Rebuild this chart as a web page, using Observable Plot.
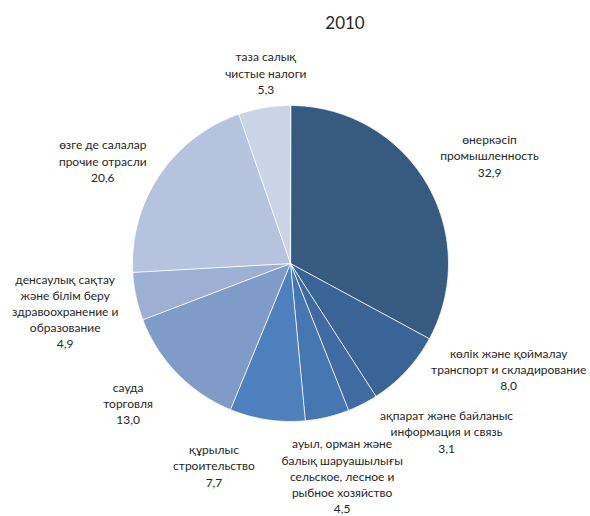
<!DOCTYPE html>
<html><head><meta charset="utf-8">
<script src="https://cdn.jsdelivr.net/npm/d3@7"></script>
<script src="https://cdn.jsdelivr.net/npm/@observablehq/plot@0.6"></script>
<style>
body{margin:0;background:#fff;font-family:Lato,"Noto Sans",sans-serif}
#title{width:590px;height:45px;line-height:45px;box-sizing:border-box;padding-left:100px;text-align:center;font-size:17px;color:#262626}
</style>
</head><body>
<div id="title"></div>
<div id="chart"></div>
<script>
const chartTitle = "2010";
// slice order: clockwise from 12 o'clock
const sectorKz = [
  "өнеркәсіп",
  "көлік және қоймалау",
  "ақпарат және байланыс",
  "ауыл, орман және\nбалық шаруашылығы",
  "құрылыс",
  "сауда",
  "денсаулық сақтау\nжәне білім беру",
  "өзге де салалар",
  "таза салық"
];
const sectorRu = [
  "промышленность",
  "транспорт и складирование",
  "информация и связь",
  "сельское, лесное и\nрыбное хозяйство",
  "строительство",
  "торговля",
  "здравоохранение и\nобразование",
  "прочие отрасли",
  "чистые налоги"
];
const shares = [32.9, 8.0, 3.1, 4.5, 7.7, 13.0, 4.9, 20.6, 5.3];
const sliceColors = ["#375a81", "#3b6496", "#3f6ba2", "#4676b1", "#4e80be", "#7f9cc9", "#9db0d4", "#b5c3df", "#cbd4e7"];

// layout (pixels): label nudges away from the default mid-angle position
const labelNudge = [[9,5],[56,-45],[55,-29],[0,-3],[-44,-17],[-4,-15],[-9,1],[-4,20],[12,27]];

document.getElementById("title").textContent = chartTitle;

const W = 590, H = 471, R = 158;
const cx = 290, cy = 218; // pie center within svg
const mL = cx - R, mR = W - (cx + R), mT = cy - R, mB = H - (cy + R);

const table = shares.map((v, i) => ({name: sectorKz[i], ru: sectorRu[i], value: v, i}));
const arcs = d3.pie().sort(null).value(d => d.value)(table);

const polys = [];
arcs.forEach(a => {
  const n = Math.max(2, Math.ceil((a.endAngle - a.startAngle) / (Math.PI / 360)));
  polys.push({key: a.data.name, x: 0, y: 0});
  for (let k = 0; k <= n; k++) {
    const t = a.startAngle + (a.endAngle - a.startAngle) * k / n;
    polys.push({key: a.data.name, x: Math.sin(t), y: Math.cos(t)});
  }
});

const fmt = v => v.toFixed(1).replace(".", ",");
const labels = arcs.map((a, i) => {
  const m = (a.startAngle + a.endAngle) / 2;
  const k = 1.4;
  return {
    x: k * Math.sin(m) + labelNudge[i][0] / R,
    y: k * Math.cos(m) - labelNudge[i][1] / R,
    text: a.data.name + "\n" + a.data.ru + "\n" + fmt(a.data.value)
  };
});

const plot = Plot.plot({
  width: W, height: H,
  marginLeft: mL, marginRight: mR, marginTop: mT, marginBottom: mB,
  x: {domain: [-1, 1], axis: null},
  y: {domain: [-1, 1], axis: null},
  color: {domain: sectorKz, range: sliceColors},
  style: {fontFamily: "Lato, 'Noto Sans', sans-serif", overflow: "visible"},
  marks: [
    Plot.line(polys, {x: "x", y: "y", z: "key", fill: "key", stroke: "white", strokeWidth: 0.8, curve: "linear-closed"}),
    Plot.text(labels, {x: "x", y: "y", text: "text", fontSize: 12, lineHeight: 1.35, lineAnchor: "middle", textAnchor: "middle", fill: "#262626"})
  ]
});
document.getElementById("chart").appendChild(plot);
</script>
</body></html>
